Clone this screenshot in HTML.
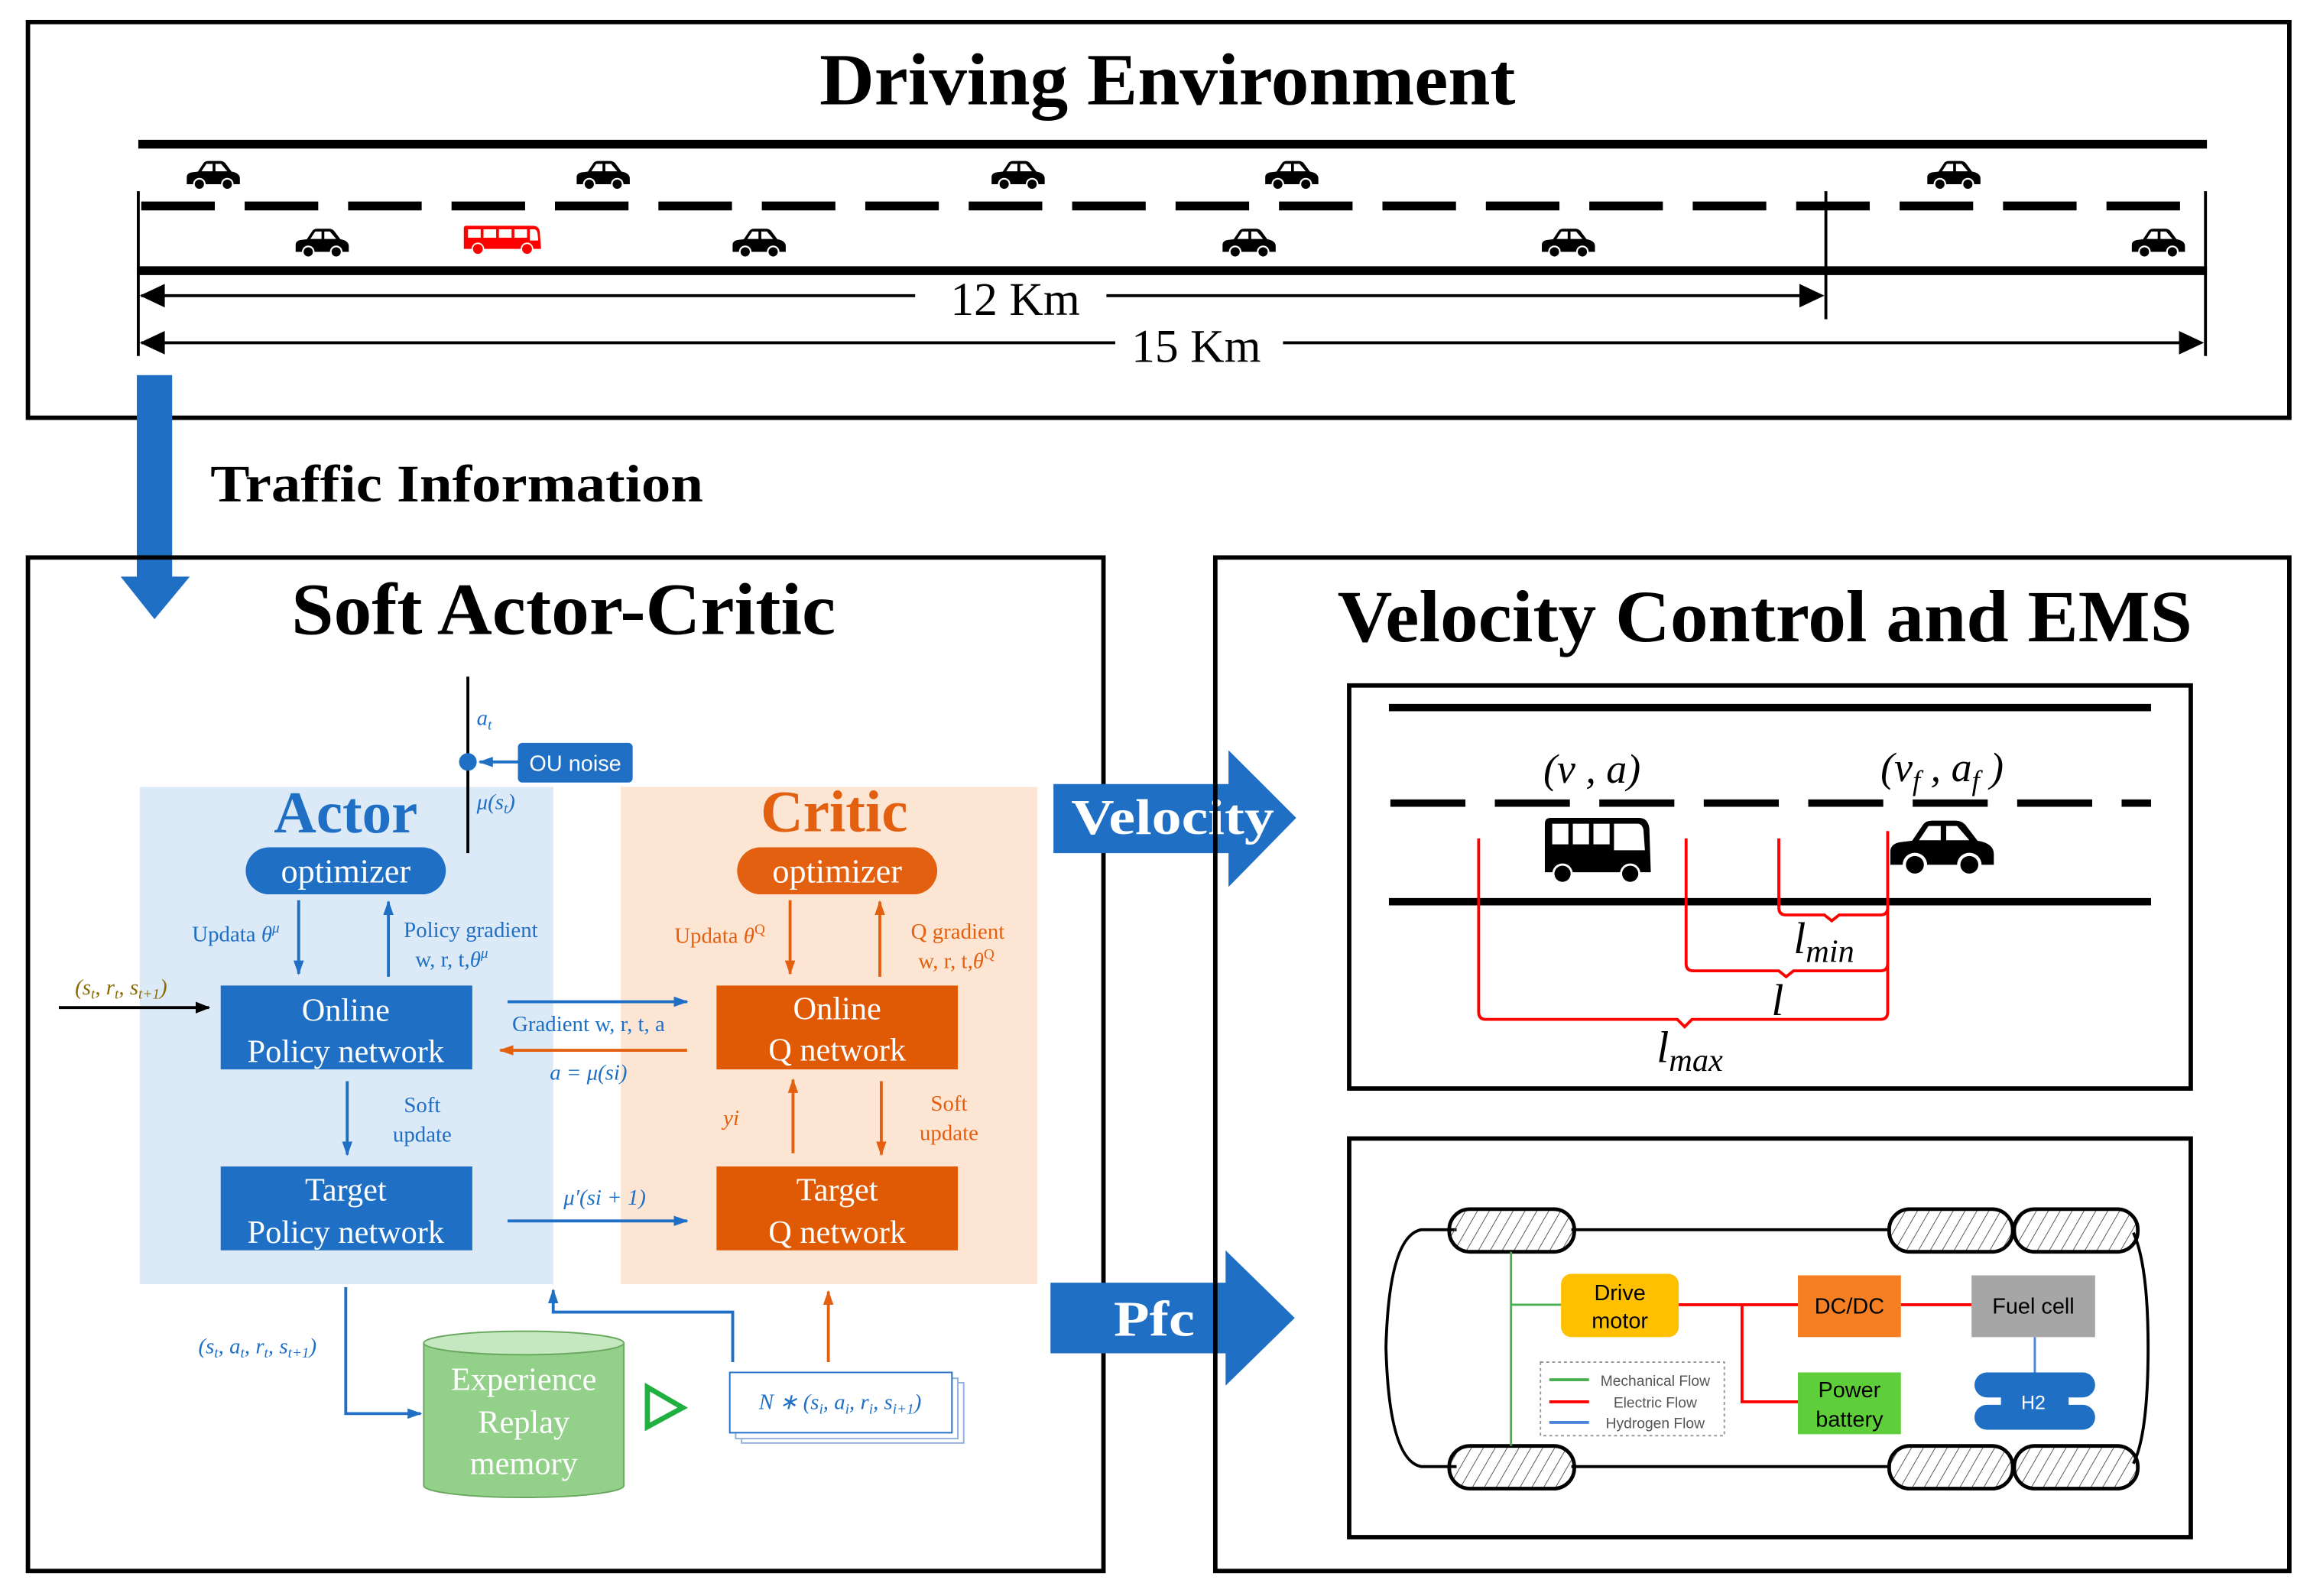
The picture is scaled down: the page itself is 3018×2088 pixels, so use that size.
<!DOCTYPE html>
<html><head><meta charset="utf-8"><style>
html,body{margin:0;padding:0;background:#fff;}
svg{display:block;}
.serif{font-family:"Liberation Serif",serif;}
.sans{font-family:"Liberation Sans",sans-serif;}
</style></head><body>
<svg width="3018" height="2088" viewBox="0 0 1568 1085" preserveAspectRatio="none" xmlns="http://www.w3.org/2000/svg">
<defs>
<symbol id="car" viewBox="0 0 40 22" preserveAspectRatio="none">
<path d="M1,17 L1,12 Q1,9 5,8.5 L9,8 L13,2 Q14,0.5 16.5,0.5 L25,0.5 Q27,0.5 28.5,2 L33,8 Q39,9 39,13 L39,17 Z" fill="#000"/>
<path d="M15,2.5 L19.5,2.5 L19.5,7.8 L11.5,7.8 Z M21.5,2.5 L25.5,2.5 L30,7.8 L21.5,7.8 Z" fill="#fff"/>
<circle cx="10" cy="17" r="4.5" fill="#fff"/><circle cx="10" cy="17" r="3.3" fill="#000"/>
<circle cx="30" cy="17" r="4.5" fill="#fff"/><circle cx="30" cy="17" r="3.3" fill="#000"/>
</symbol>
<symbol id="bus" viewBox="0 0 57 22">
<path d="M1,2 Q1,0.5 3,0.5 L50,0.5 Q54,0.5 55,4 L56,17 L1,17 Z"/>
<path d="M4,3 L13,3 L13,9 L4,9 Z M15,3 L24,3 L24,9 L15,9 Z M26,3 L35,3 L35,9 L26,9 Z M37,3 L46,3 L46,9 L37,9 Z M48,3 L51,3 Q53,3 53.5,6 L54,11 L48,11 Z" fill="#fff"/>
<circle cx="11" cy="17" r="4.5" fill="#fff"/><circle cx="11" cy="17" r="3.5"/>
<circle cx="46" cy="17" r="4.5" fill="#fff"/><circle cx="46" cy="17" r="3.5"/>
</symbol>
<pattern id="hatch" width="7" height="7" patternUnits="userSpaceOnUse" patternTransform="rotate(30)">
<line x1="0" y1="0" x2="0" y2="7" stroke="#555" stroke-width="1"/>
</pattern>
<marker id="ak" markerWidth="10" markerHeight="10" refX="9" refY="5" orient="auto" markerUnits="userSpaceOnUse"><path d="M0,1 L10,5 L0,9 Z" fill="#000"/></marker>
<marker id="ab" markerWidth="10" markerHeight="10" refX="9" refY="5" orient="auto" markerUnits="userSpaceOnUse"><path d="M0,1.5 L10,5 L0,8.5 Z" fill="#1f6fc5"/></marker>
<marker id="ao" markerWidth="10" markerHeight="10" refX="9" refY="5" orient="auto" markerUnits="userSpaceOnUse"><path d="M0,1.5 L10,5 L0,8.5 Z" fill="#e2600f"/></marker>
</defs>

<!-- Driving Environment -->
<rect x="19" y="15" width="1537" height="269" fill="none" stroke="#000" stroke-width="3"/>
<text x="557" y="71" textLength="473" lengthAdjust="spacingAndGlyphs" class="serif" font-weight="bold" font-size="50">Driving Environment</text>
<line x1="94" y1="98" x2="1500" y2="98" stroke="#000" stroke-width="6"/>
<line x1="96" y1="140" x2="1500" y2="140" stroke="#000" stroke-width="6" stroke-dasharray="50 20.3"/>
<line x1="94" y1="184" x2="1500" y2="184" stroke="#000" stroke-width="6"/>
<line x1="94" y1="130" x2="94" y2="242" stroke="#000" stroke-width="2"/>
<line x1="1241" y1="130" x2="1241" y2="217" stroke="#000" stroke-width="2"/>
<line x1="1499" y1="130" x2="1499" y2="242" stroke="#000" stroke-width="2"/>
<line x1="96" y1="201" x2="622" y2="201" stroke="#000" stroke-width="2"/>
<line x1="752" y1="201" x2="1228" y2="201" stroke="#000" stroke-width="2"/>
<path d="M95,201 L112,193 L112,209 Z"/><path d="M1240,201 L1223,193 L1223,209 Z"/>
<line x1="96" y1="233" x2="758" y2="233" stroke="#000" stroke-width="2"/>
<line x1="872" y1="233" x2="1486" y2="233" stroke="#000" stroke-width="2"/>
<path d="M95,233 L112,225 L112,241 Z"/><path d="M1498,233 L1481,225 L1481,241 Z"/>
<text x="690" y="214" text-anchor="middle" class="serif" font-size="32">12 Km</text>
<text x="813" y="246" text-anchor="middle" class="serif" font-size="32">15 Km</text>
<use href="#car" x="126" y="109" width="38" height="21"/>
<use href="#car" x="391" y="109" width="38" height="21"/>
<use href="#car" x="673" y="109" width="38" height="21"/>
<use href="#car" x="859" y="109" width="38" height="21"/>
<use href="#car" x="1309" y="109" width="38" height="21"/>
<use href="#car" x="200" y="155" width="38" height="21"/>
<use href="#car" x="497" y="155" width="38" height="21"/>
<use href="#car" x="830" y="155" width="38" height="21"/>
<use href="#car" x="1047" y="155" width="38" height="21"/>
<use href="#car" x="1448" y="155" width="38" height="21"/>
<use href="#bus" x="313" y="153" width="57" height="21" fill="#f00"/>

<!-- traffic arrow -->
<path d="M93,255 L117,255 L117,392 L129,392 L105,421 L82,392 L93,392 Z" fill="#1f6fc5"/>
<text x="143" y="341" textLength="335" lengthAdjust="spacingAndGlyphs" class="serif" font-weight="bold" font-size="36">Traffic Information</text>

<!-- SAC -->
<rect x="19" y="379" width="731" height="689" fill="none" stroke="#000" stroke-width="3"/>
<text x="198" y="431" textLength="370" lengthAdjust="spacingAndGlyphs" class="serif" font-weight="bold" font-size="50">Soft Actor-Critic</text>
<rect x="95" y="535" width="281" height="338" fill="#dce9f6"/>
<rect x="422" y="535" width="283" height="338" fill="#fde5d4"/>
<text x="235" y="566" text-anchor="middle" class="serif" font-weight="bold" font-size="40" fill="#1f6fc5">Actor</text>
<text x="567" y="565" text-anchor="middle" class="serif" font-weight="bold" font-size="40" fill="#e2600f">Critic</text>
<line x1="318" y1="460" x2="318" y2="580" stroke="#000" stroke-width="2"/>
<circle cx="318" cy="518" r="6" fill="#1f6fc5"/>
<rect x="352" y="505" width="78" height="27" rx="3" fill="#1f6fc5"/>
<text x="391" y="524" text-anchor="middle" class="sans" font-size="15" fill="#fff">OU noise</text>
<line x1="352" y1="518" x2="326" y2="518" stroke="#1f6fc5" stroke-width="2" marker-end="url(#ab)"/>
<text x="324" y="493" class="serif" font-style="italic" font-size="15" fill="#1f6fc5">a<tspan font-size="10" dy="3">t</tspan></text>
<text x="324" y="550" class="serif" font-style="italic" font-size="15" fill="#1f6fc5">μ(s<tspan font-size="10" dy="3">t</tspan><tspan dy="-3">)</tspan></text>
<rect x="167" y="576" width="136" height="32" rx="16" fill="#1f6fc5"/>
<text x="235" y="600" text-anchor="middle" class="serif" font-size="23" fill="#fff">optimizer</text>
<rect x="501" y="576" width="136" height="32" rx="16" fill="#e2600f"/>
<text x="569" y="600" text-anchor="middle" class="serif" font-size="23" fill="#fff">optimizer</text>

<line x1="203" y1="612" x2="203" y2="662" stroke="#1f6fc5" stroke-width="2" marker-end="url(#ab)"/>
<line x1="264" y1="664" x2="264" y2="613" stroke="#1f6fc5" stroke-width="2" marker-end="url(#ab)"/>
<text x="190" y="640" text-anchor="end" class="serif" font-size="15" fill="#1f6fc5">Updata <tspan font-style="italic">θ</tspan><tspan font-size="10" dy="-6" font-style="italic">μ</tspan></text>
<text x="320" y="637" text-anchor="middle" class="serif" font-size="15" fill="#1f6fc5">Policy gradient</text>
<text x="307" y="657" text-anchor="middle" class="serif" font-size="15" fill="#1f6fc5">w, r, t,<tspan font-style="italic">θ</tspan><tspan font-size="10" dy="-6" font-style="italic">μ</tspan></text>
<line x1="537" y1="612" x2="537" y2="662" stroke="#e2600f" stroke-width="2" marker-end="url(#ao)"/>
<line x1="598" y1="664" x2="598" y2="613" stroke="#e2600f" stroke-width="2" marker-end="url(#ao)"/>
<text x="520" y="641" text-anchor="end" class="serif" font-size="15" fill="#e2600f">Updata <tspan font-style="italic">θ</tspan><tspan font-size="10" dy="-6">Q</tspan></text>
<text x="651" y="638" text-anchor="middle" class="serif" font-size="15" fill="#e2600f">Q gradient</text>
<text x="650" y="658" text-anchor="middle" class="serif" font-size="15" fill="#e2600f">w, r, t,<tspan font-style="italic">θ</tspan><tspan font-size="10" dy="-6">Q</tspan></text>

<text x="51" y="676" class="serif" font-style="italic" font-size="15" fill="#8a6a00">(s<tspan font-size="10" dy="3">t</tspan><tspan dy="-3">, r</tspan><tspan font-size="10" dy="3">t</tspan><tspan dy="-3">, s</tspan><tspan font-size="10" dy="3">t+1</tspan><tspan dy="-3">)</tspan></text>
<line x1="40" y1="685" x2="142" y2="685" stroke="#000" stroke-width="2" marker-end="url(#ak)"/>

<rect x="150" y="670" width="171" height="57" fill="#1f6fc5"/>
<text x="235" y="694" text-anchor="middle" class="serif" font-size="22" fill="#fff">Online</text>
<text x="235" y="722" text-anchor="middle" class="serif" font-size="22" fill="#fff">Policy network</text>
<rect x="150" y="793" width="171" height="57" fill="#1f6fc5"/>
<text x="235" y="816" text-anchor="middle" class="serif" font-size="22" fill="#fff">Target</text>
<text x="235" y="845" text-anchor="middle" class="serif" font-size="22" fill="#fff">Policy network</text>
<rect x="487" y="670" width="164" height="57" fill="#e05a06"/>
<text x="569" y="693" text-anchor="middle" class="serif" font-size="22" fill="#fff">Online</text>
<text x="569" y="721" text-anchor="middle" class="serif" font-size="22" fill="#fff">Q network</text>
<rect x="487" y="793" width="164" height="57" fill="#e05a06"/>
<text x="569" y="816" text-anchor="middle" class="serif" font-size="22" fill="#fff">Target</text>
<text x="569" y="845" text-anchor="middle" class="serif" font-size="22" fill="#fff">Q network</text>

<line x1="345" y1="681" x2="467" y2="681" stroke="#1f6fc5" stroke-width="2" marker-end="url(#ab)"/>
<text x="400" y="701" text-anchor="middle" class="serif" font-size="15" fill="#1f6fc5">Gradient w, r, t, a</text>
<line x1="467" y1="714" x2="340" y2="714" stroke="#e2600f" stroke-width="2" marker-end="url(#ao)"/>
<text x="400" y="734" text-anchor="middle" class="serif" font-style="italic" font-size="15" fill="#1f6fc5">a = μ(si)</text>
<line x1="236" y1="735" x2="236" y2="785" stroke="#1f6fc5" stroke-width="2" marker-end="url(#ab)"/>
<text x="287" y="756" text-anchor="middle" class="serif" font-size="15" fill="#1f6fc5">Soft</text>
<text x="287" y="776" text-anchor="middle" class="serif" font-size="15" fill="#1f6fc5">update</text>
<line x1="539" y1="784" x2="539" y2="734" stroke="#e2600f" stroke-width="2" marker-end="url(#ao)"/>
<text x="497" y="765" text-anchor="middle" class="serif" font-style="italic" font-size="15" fill="#e2600f">yi</text>
<line x1="599" y1="735" x2="599" y2="785" stroke="#e2600f" stroke-width="2" marker-end="url(#ao)"/>
<text x="645" y="755" text-anchor="middle" class="serif" font-size="15" fill="#e2600f">Soft</text>
<text x="645" y="775" text-anchor="middle" class="serif" font-size="15" fill="#e2600f">update</text>
<text x="411" y="819" text-anchor="middle" class="serif" font-style="italic" font-size="15" fill="#1f6fc5">μ′(si + 1)</text>
<line x1="345" y1="830" x2="467" y2="830" stroke="#1f6fc5" stroke-width="2" marker-end="url(#ab)"/>

<polyline points="235,875 235,961 286,961" fill="none" stroke="#1f6fc5" stroke-width="2" marker-end="url(#ab)"/>
<text x="175" y="920" text-anchor="middle" class="serif" font-style="italic" font-size="15" fill="#1f6fc5">(s<tspan font-size="10" dy="3">t</tspan><tspan dy="-3">, a</tspan><tspan font-size="10" dy="3">t</tspan><tspan dy="-3">, r</tspan><tspan font-size="10" dy="3">t</tspan><tspan dy="-3">, s</tspan><tspan font-size="10" dy="3">t+1</tspan><tspan dy="-3">)</tspan></text>
<polyline points="498,926 498,892 376,892 376,877" fill="none" stroke="#1f6fc5" stroke-width="2" marker-end="url(#ab)"/>
<line x1="563" y1="926" x2="563" y2="878" stroke="#e2600f" stroke-width="2" marker-end="url(#ao)"/>

<path d="M288,913 L288,1010 A68,8 0 0 0 424,1010 L424,913 Z" fill="#93d18a" stroke="#6aa860" stroke-width="1"/>
<ellipse cx="356" cy="913" rx="68" ry="8" fill="#c5e8c0" stroke="#6aa860" stroke-width="1"/>
<text x="356" y="945" text-anchor="middle" class="serif" font-size="22" fill="#fff">Experience</text>
<text x="356" y="974" text-anchor="middle" class="serif" font-size="22" fill="#fff">Replay</text>
<text x="356" y="1002" text-anchor="middle" class="serif" font-size="22" fill="#fff">memory</text>
<path d="M440,943 L464,957 L440,970 Z" fill="none" stroke="#1fb040" stroke-width="3.5"/>
<rect x="504" y="940" width="151" height="41" fill="#fff" stroke="#8fb0dc" stroke-width="1"/>
<rect x="500" y="937" width="151" height="41" fill="#fff" stroke="#8fb0dc" stroke-width="1"/>
<rect x="496" y="933" width="151" height="41" fill="#fff" stroke="#1f6fc5" stroke-width="1"/>
<text x="571" y="958" text-anchor="middle" class="serif" font-style="italic" font-size="15" fill="#1f6fc5">N ∗ (s<tspan font-size="10" dy="3">i</tspan><tspan dy="-3">, a</tspan><tspan font-size="10" dy="3">i</tspan><tspan dy="-3">, r</tspan><tspan font-size="10" dy="3">i</tspan><tspan dy="-3">, s</tspan><tspan font-size="10" dy="3">i+1</tspan><tspan dy="-3">)</tspan></text>

<!-- Velocity / Pfc arrows -->
<path d="M716,533 L835,533 L835,510 L881,556 L835,603 L835,580 L716,580 Z" fill="#1f6fc5"/>
<text x="728" y="567" textLength="138" lengthAdjust="spacingAndGlyphs" class="serif" font-weight="bold" font-size="34" fill="#fff">Velocity</text>
<path d="M714,872 L833,872 L833,850 L880,896 L833,942 L833,920 L714,920 Z" fill="#1f6fc5"/>
<text x="757" y="908" textLength="55" lengthAdjust="spacingAndGlyphs" class="serif" font-weight="bold" font-size="34" fill="#fff">Pfc</text>

<!-- Velocity Control and EMS -->
<rect x="826" y="379" width="730" height="689" fill="none" stroke="#000" stroke-width="3"/>
<text x="909" y="436" textLength="581" lengthAdjust="spacingAndGlyphs" class="serif" font-weight="bold" font-size="50">Velocity Control and EMS</text>
<rect x="917" y="466" width="572" height="274" fill="none" stroke="#000" stroke-width="3"/>
<line x1="944" y1="481" x2="1462" y2="481" stroke="#000" stroke-width="5"/>
<line x1="945" y1="546" x2="1462" y2="546" stroke="#000" stroke-width="5" stroke-dasharray="51 20"/>
<line x1="944" y1="613" x2="1462" y2="613" stroke="#000" stroke-width="5"/>
<!-- big bus -->
<g>
<path d="M1050,560 Q1050,556 1054,556 L1114,556 Q1120,556 1121,563 L1122,593 L1050,593 Z"/>
<rect x="1055" y="560" width="11" height="14" fill="#fff"/>
<rect x="1069" y="560" width="11" height="14" fill="#fff"/>
<rect x="1083" y="560" width="11" height="14" fill="#fff"/>
<path d="M1097,560 L1113,560 Q1116,560 1117,564 L1118,578 L1097,578 Z" fill="#fff"/>
<circle cx="1062" cy="594" r="7" fill="#fff"/><circle cx="1062" cy="594" r="5.5"/>
<circle cx="1108" cy="594" r="7" fill="#fff"/><circle cx="1108" cy="594" r="5.5"/>
</g>
<use href="#car" x="1283" y="557" width="74" height="40"/>
<text x="1082" y="532" text-anchor="middle" class="serif" font-style="italic" font-size="28">(v , a)</text>
<text x="1320" y="531" text-anchor="middle" class="serif" font-style="italic" font-size="28">(v<tspan font-size="19" dy="6">f</tspan><tspan dy="-6"> , a</tspan><tspan font-size="19" dy="6">f</tspan><tspan dy="-6"> )</tspan></text>
<g fill="none" stroke="#f00" stroke-width="2">
<line x1="1005" y1="570" x2="1005" y2="688"/>
<line x1="1146" y1="570" x2="1146" y2="655"/>
<line x1="1209" y1="570" x2="1209" y2="617"/>
<line x1="1283" y1="565" x2="1283" y2="688"/>
<path d="M1209,617 Q1209,622 1214,622 L1240,622 L1245,626 L1250,622 L1278,622 Q1283,622 1283,617"/>
<path d="M1146,655 Q1146,660 1151,660 L1209,660 L1214,664 L1219,660 L1278,660 Q1283,660 1283,655"/>
<path d="M1005,688 Q1005,693 1010,693 L1140,693 L1145,698 L1150,693 L1278,693 Q1283,693 1283,688"/>
</g>
<text x="1219" y="648" class="serif" font-style="italic" font-size="30">l<tspan font-size="22" dy="6">min</tspan></text>
<text x="1204" y="690" class="serif" font-style="italic" font-size="30">l</text>
<text x="1126" y="722" class="serif" font-style="italic" font-size="30">l<tspan font-size="22" dy="6">max</tspan></text>

<rect x="917" y="774" width="572" height="271" fill="none" stroke="#000" stroke-width="3"/>
<path d="M990,836 L966,836 Q944,840 942,916 Q944,993 966,997 L990,997" fill="none" stroke="#000" stroke-width="2"/>
<line x1="1068" y1="836" x2="1285" y2="836" stroke="#000" stroke-width="2"/>
<line x1="1068" y1="997" x2="1285" y2="997" stroke="#000" stroke-width="2"/>
<path d="M1450,838 Q1460,860 1460,916 Q1460,975 1450,995" fill="none" stroke="#000" stroke-width="2"/>
<g fill="url(#hatch)" stroke="#000" stroke-width="2.5">
<rect x="985" y="822" width="85" height="29" rx="14"/>
<rect x="1284" y="822" width="84" height="29" rx="14"/>
<rect x="1369" y="822" width="84" height="29" rx="14"/>
<rect x="985" y="983" width="85" height="29" rx="14"/>
<rect x="1284" y="983" width="84" height="29" rx="14"/>
<rect x="1369" y="983" width="84" height="29" rx="14"/>
</g>
<line x1="1027" y1="851" x2="1027" y2="983" stroke="#4caf50" stroke-width="1.5"/>
<line x1="1027" y1="887" x2="1061" y2="887" stroke="#4caf50" stroke-width="1.5"/>
<g stroke="#f00" stroke-width="2" fill="none">
<line x1="1141" y1="887" x2="1222" y2="887"/>
<line x1="1292" y1="887" x2="1340" y2="887"/>
<polyline points="1184,887 1184,953 1222,953"/>
</g>
<line x1="1383" y1="909" x2="1383" y2="934" stroke="#4a86d8" stroke-width="1.5"/>
<rect x="1061" y="866" width="80" height="43" rx="7" fill="#ffc000"/>
<text x="1101" y="884" text-anchor="middle" class="sans" font-size="15">Drive</text>
<text x="1101" y="903" text-anchor="middle" class="sans" font-size="15">motor</text>
<rect x="1222" y="867" width="70" height="42" fill="#f57f22"/>
<text x="1257" y="893" text-anchor="middle" class="sans" font-size="15">DC/DC</text>
<rect x="1340" y="867" width="84" height="42" fill="#a6a6a6"/>
<text x="1382" y="893" text-anchor="middle" class="sans" font-size="15">Fuel cell</text>
<rect x="1222" y="933" width="70" height="42" fill="#5ecf3a"/>
<text x="1257" y="950" text-anchor="middle" class="sans" font-size="15">Power</text>
<text x="1257" y="970" text-anchor="middle" class="sans" font-size="15">battery</text>
<rect x="1342" y="933" width="82" height="17" rx="8.5" fill="#1f6fc5"/>
<rect x="1342" y="955" width="82" height="17" rx="8.5" fill="#1f6fc5"/>
<rect x="1360" y="945" width="46" height="15" fill="#1f6fc5"/>
<text x="1382" y="958" text-anchor="middle" class="sans" font-size="13" fill="#fff">H2</text>
<rect x="1047" y="926" width="125" height="50" fill="none" stroke="#999" stroke-width="1" stroke-dasharray="2 2"/>
<line x1="1053" y1="938" x2="1080" y2="938" stroke="#4caf50" stroke-width="2"/>
<line x1="1053" y1="953" x2="1080" y2="953" stroke="#f00" stroke-width="2"/>
<line x1="1053" y1="967" x2="1080" y2="967" stroke="#4a86d8" stroke-width="2"/>
<text x="1125" y="942" text-anchor="middle" class="sans" font-size="10" fill="#555">Mechanical Flow</text>
<text x="1125" y="957" text-anchor="middle" class="sans" font-size="10" fill="#555">Electric Flow</text>
<text x="1125" y="971" text-anchor="middle" class="sans" font-size="10" fill="#555">Hydrogen Flow</text>
</svg>
</body></html>
